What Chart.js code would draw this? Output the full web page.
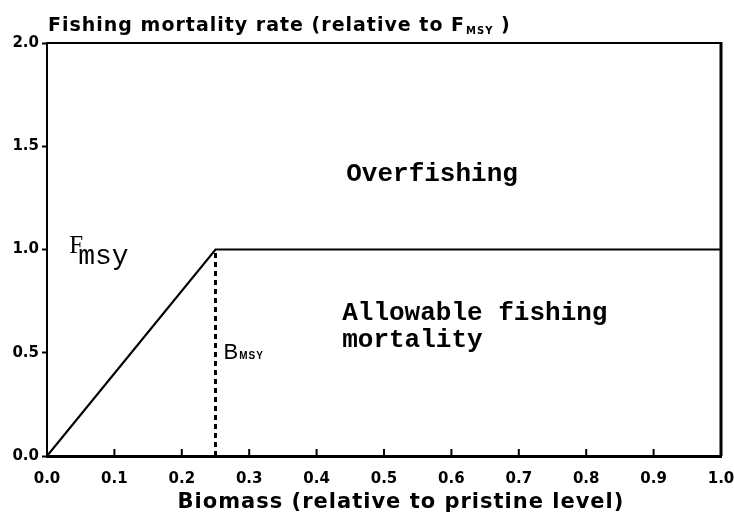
<!DOCTYPE html>
<html>
<head>
<meta charset="utf-8">
<script src="https://cdn.jsdelivr.net/npm/chart.js@4.4.1/dist/chart.umd.min.js"></script>
<style>
  html, body { margin: 0; padding: 0; background: #fff; }
  #wrap { width: 734px; height: 518px; }
</style>
</head>
<body>
<div id="wrap"><canvas id="chart" width="734" height="518"></canvas></div>
<script>
// harvest control rule
const biomass = [0, 0.25, 1.0];
const fishingRate = [0, 1.0, 1.0];
// B_MSY marker
const bmsyX = [0.25, 0.25];
const bmsyY = [0, 1.0];

const xTickLabels = ["0.0", "0.1", "0.2", "0.3", "0.4", "0.5", "0.6", "0.7", "0.8", "0.9", "1.0"];
const yTickLabels = ["0.0", "0.5", "1.0", "1.5", "2.0"];

const yTitle = "Fishing mortality rate (relative to F";
const xTitle = "Biomass (relative to pristine level)";

const SANS = '"DejaVu Sans", sans-serif';
const MONO = '"Liberation Mono", monospace';

// labels inside the plot, placed in data units
const notes = [
  { x: 0.444, y: 1.33, parts: [{ t: "Overfishing", f: "bold 26px " + MONO }] },
  { x: 0.438, y: 0.66, parts: [{ t: "Allowable fishing", f: "bold 26px " + MONO }] },
  { x: 0.438, y: 0.53, parts: [{ t: "mortality", f: "bold 26px " + MONO }] },
  { x: 0.033, y: 0.985, parts: [
      { t: "F", f: '25px "Liberation Serif", serif' },
      { t: "msy", f: "28px " + MONO, dy: 11, dx: -5 }
  ] },
  { x: 0.262, y: 0.47, parts: [
      { t: "B", f: '22px "Liberation Sans", sans-serif' },
      { t: "MSY", f: 'bold 10px "Liberation Sans", sans-serif', sp: "1px", dx: 1 }
  ] }
];

function toPairs(xs, ys) {
  return xs.map((x, i) => ({ x: x, y: ys[i] }));
}

function drawParts(ctx, parts, x, y) {
  let cx = x;
  parts.forEach(p => {
    ctx.font = p.f;
    ctx.letterSpacing = p.sp || "0px";
    cx += p.dx || 0;
    ctx.fillText(p.t, cx, y + (p.dy || 0));
    cx += ctx.measureText(p.t).width;
  });
  ctx.letterSpacing = "0px";
}

const framePlugin = {
  id: "frame",
  afterDatasetsDraw(chart) {
    const ctx = chart.ctx;
    const a = chart.chartArea;
    const xs = chart.scales.x;
    ctx.save();
    ctx.strokeStyle = "#000";
    // top and right edges of the box
    ctx.lineWidth = 2;
    ctx.beginPath();
    ctx.moveTo(a.left, a.top);
    ctx.lineTo(a.right, a.top);
    ctx.stroke();
    ctx.lineWidth = 3;
    ctx.beginPath();
    ctx.moveTo(a.right, a.top - 1);
    ctx.lineTo(a.right, a.bottom);
    ctx.stroke();
    // x ticks pointing inward
    ctx.lineWidth = 2;
    xs.ticks.forEach(t => {
      const px = xs.getPixelForValue(t.value);
      ctx.beginPath();
      ctx.moveTo(px, a.bottom);
      ctx.lineTo(px, a.bottom - 7);
      ctx.stroke();
    });
    ctx.restore();
  },
  afterDraw(chart) {
    const ctx = chart.ctx;
    const xs = chart.scales.x;
    const ys = chart.scales.y;
    ctx.save();
    ctx.fillStyle = "#000";
    ctx.textBaseline = "alphabetic";
    ctx.textAlign = "left";

    // y axis title across the top
    drawParts(ctx, [
      { t: yTitle, f: "bold 19px " + SANS, sp: "1px" },
      { t: "MSY", f: "bold 10px " + SANS, sp: "1px", dy: 3, dx: 1 },
      { t: " )", f: "bold 19px " + SANS, sp: "1px" }
    ], 48, 31);

    // x axis title
    ctx.font = "bold 21px " + SANS;
    ctx.letterSpacing = "1px";
    ctx.textAlign = "center";
    ctx.fillText(xTitle, 401, 508);
    ctx.letterSpacing = "0px";
    ctx.textAlign = "left";

    notes.forEach(n => {
      drawParts(ctx, n.parts, xs.getPixelForValue(n.x), ys.getPixelForValue(n.y));
    });
    ctx.restore();
  }
};

new Chart(document.getElementById("chart"), {
  type: "scatter",
  data: {
    datasets: [
      {
        data: toPairs(biomass, fishingRate),
        showLine: true,
        borderColor: "#000",
        borderWidth: 2.2,
        pointRadius: 0,
        tension: 0
      },
      {
        data: toPairs(bmsyX, bmsyY),
        showLine: true,
        borderColor: "#000",
        borderWidth: 3,
        borderDash: [5, 4],
        pointRadius: 0
      }
    ]
  },
  options: {
    responsive: false,
    animation: false,
    events: [],
    layout: { padding: { top: 43, right: 0, left: 0, bottom: 0 } },
    plugins: {
      legend: { display: false },
      tooltip: { enabled: false }
    },
    scales: {
      x: {
        type: "linear",
        min: 0,
        max: 1,
        afterBuildTicks(scale) {
          scale.ticks = xTickLabels.map(s => ({ value: parseFloat(s) }));
        },
        afterFit(scale) {
          scale.height = 62;
          scale.paddingLeft = 0;
          scale.paddingRight = 13;
        },
        ticks: {
          callback: (v, i) => xTickLabels[i],
          color: "#000",
          font: { family: SANS, weight: "bold", size: 15 },
          padding: 14,
          maxRotation: 0,
          autoSkip: false
        },
        grid: { drawOnChartArea: false, drawTicks: false },
        border: { display: true, color: "#000", width: 3 }
      },
      y: {
        type: "linear",
        min: 0,
        max: 2,
        afterBuildTicks(scale) {
          scale.ticks = yTickLabels.map(s => ({ value: parseFloat(s) }));
        },
        afterFit(scale) { scale.width = 47; },
        ticks: {
          callback: (v, i) => yTickLabels[i],
          color: "#000",
          font: { family: SANS, weight: "bold", size: 15 },
          padding: 3
        },
        grid: { drawOnChartArea: false, drawTicks: true, tickLength: 5, tickWidth: 2, tickColor: "#000" },
        border: { display: true, color: "#000", width: 2 }
      }
    }
  },
  plugins: [framePlugin]
});
</script>
</body>
</html>
